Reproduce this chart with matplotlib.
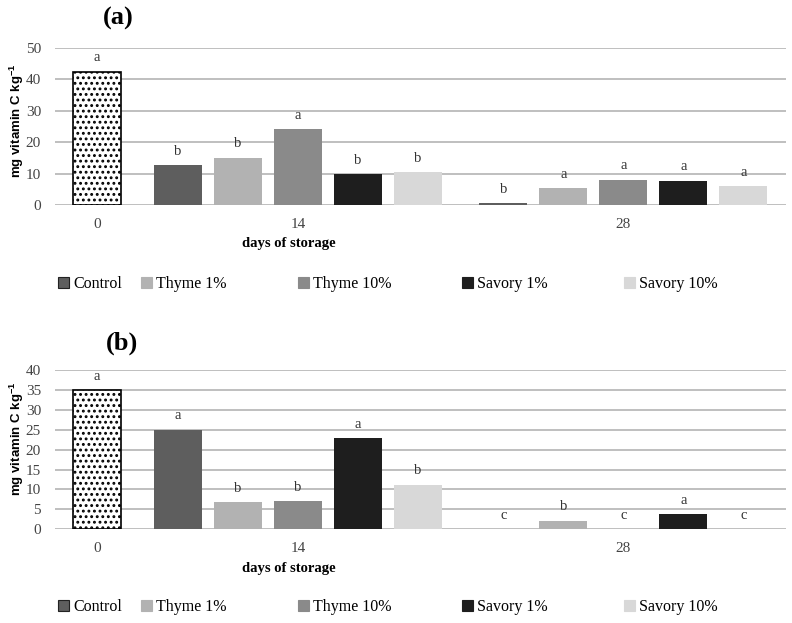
"""Vitamin C during storage, two panels (a) and (b), grouped bars."""
import matplotlib
matplotlib.use("Agg")
import matplotlib.pyplot as plt
from matplotlib.patches import Patch

# datos
dias = ["0", "14", "28"]
tratamientos = ["Control", "Thyme 1%", "Thyme 10%", "Savory 1%", "Savory 10%"]
colores = ["#5e5e5e", "#b2b2b2", "#8a8a8a", "#1e1e1e", "#d8d8d8"]

a_dia0 = 42.4
a_dia14 = [12.6, 15.1, 24.2, 9.9, 10.5]
a_dia28 = [0.5, 5.3, 8.1, 7.7, 6.0]
a_letra0 = "a"
a_letras14 = ["b", "b", "a", "b", "b"]
a_letras28 = ["b", "a", "a", "a", "a"]

b_dia0 = 35.0
b_dia14 = [25.0, 6.8, 7.05, 22.95, 11.2]
b_dia28 = [0.0, 2.1, 0.0, 3.8, 0.0]
b_letra0 = "a"
b_letras14 = ["a", "b", "b", "a", "b"]
b_letras28 = ["c", "b", "c", "a", "c"]

SERIF = "Liberation Serif"
SANS = "Liberation Sans"
GRIS_TXT = "#333333"

# posiciones de grupo (unidades de barra)
ANCHO = 0.8
INI14 = 1.35
INI28 = INI14 + 5 + 0.42
pos14 = [INI14 + i for i in range(5)]
pos28 = [INI28 + i for i in range(5)]
ticks = [0, INI14 + 2, INI28 + 2]


def panel(ax, v0, l0, v14, l14, v28, l28, ymax, paso, xlab_y, ylab_y):
    ax.bar(0, v0, ANCHO, color="white", edgecolor="black", hatch="...", lw=1.2, zorder=2)
    ax.bar(pos14, v14, ANCHO, color=colores, zorder=2)
    ax.bar(pos28, v28, ANCHO, color=colores, zorder=2)
    for x, v, l in [(0, v0, l0)] + list(zip(pos14, v14, l14)) + list(zip(pos28, v28, l28)):
        ax.annotate(l, (x, v), xytext=(0, 10), textcoords="offset points", ha="center", va="center",
                    fontsize=10.5, family=SERIF, color=GRIS_TXT)
    ax.set_xlim(-0.7, INI28 + 4.71)
    ax.set_ylim(0, ymax)
    ax.set_yticks(range(0, ymax + 1, paso))
    ax.set_xticks(ticks, dias)
    ax.yaxis.grid(True, color="#b4b4b4", lw=1.2)
    ax.set_axisbelow(True)
    for s in ax.spines.values():
        s.set_visible(False)
    ax.tick_params(axis="both", length=0, labelsize=11, labelcolor="#444444")
    ax.tick_params(axis="y", pad=10)
    ax.tick_params(axis="x", pad=9)
    for t in ax.get_xticklabels() + ax.get_yticklabels():
        t.set_family(SERIF)
    ax.set_ylabel("mg vitamin C kg$^{\\mathregular{-1}}$", family=SANS, fontweight="bold", fontsize=9.5)
    ax.yaxis.set_label_coords(-0.04, ylab_y)
    ax.set_xlabel("days of storage", family=SERIF, fontweight="bold", fontsize=10.5)
    ax.xaxis.set_label_coords(0.32, xlab_y)


def leyenda(fig, y):
    xs = [58, 141, 298, 462, 624]
    for x, nom, col in zip(xs, tratamientos, colores):
        borde = "#222222" if nom == "Control" else col
        h = Patch(facecolor=col, edgecolor=borde, lw=0.8)
        fig.legend([h], [nom], loc="center left", bbox_to_anchor=(x / 792, 1 - y / 623), frameon=False,
                   borderpad=0, borderaxespad=0, handlelength=0.7, handleheight=0.7, handletextpad=0.25,
                   prop={"family": SERIF, "size": 11.5})


plt.rcParams["hatch.linewidth"] = 1.3
fig = plt.figure(figsize=(7.92, 6.23), dpi=100)
axa = fig.add_axes([55 / 792, 1 - 205 / 623, 731 / 792, 157 / 623])
axb = fig.add_axes([55 / 792, 1 - 529 / 623, 731 / 792, 158.6 / 623])
panel(axa, a_dia0, a_letra0, a_dia14, a_letras14, a_dia28, a_letras28, 50, 10, -0.205, 0.54)
panel(axb, b_dia0, b_letra0, b_dia14, b_letras14, b_dia28, b_letras28, 40, 5, -0.21, 0.57)
fig.text(118 / 792, 1 - 18 / 623, "(a)", family=SERIF, fontweight="bold", fontsize=19, ha="center", va="center")
fig.text(122 / 792, 1 - 343 / 623, "(b)", family=SERIF, fontweight="bold", fontsize=19, ha="center", va="center")
leyenda(fig, 284)
leyenda(fig, 607)
fig.savefig("out.png", dpi=100)
